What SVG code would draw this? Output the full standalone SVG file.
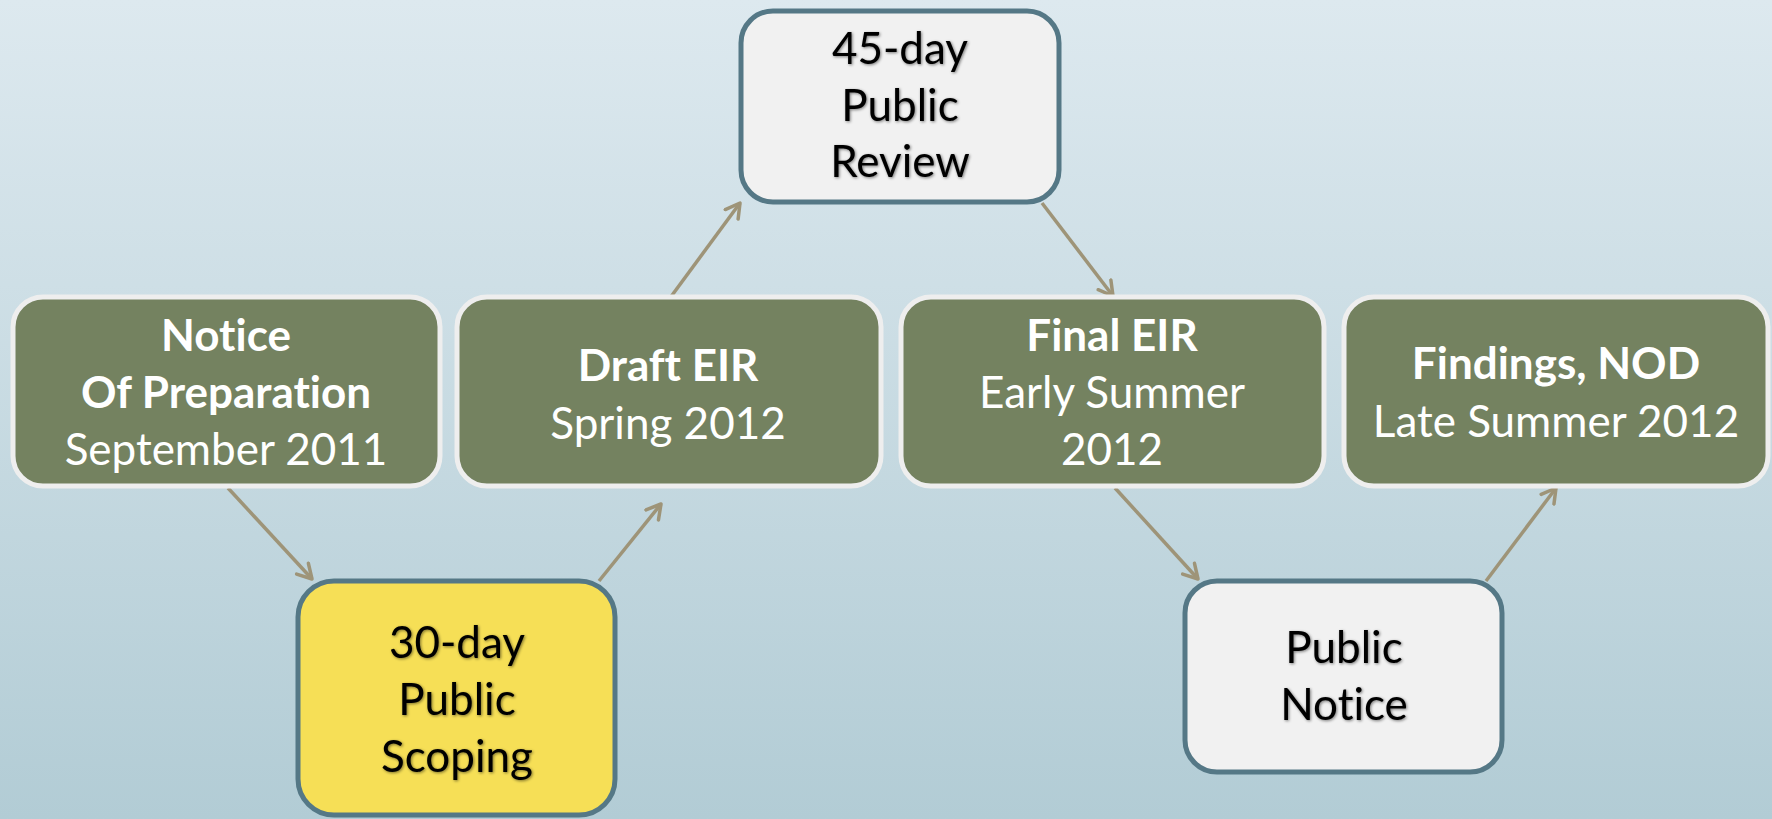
<svg xmlns="http://www.w3.org/2000/svg" width="1772" height="819" viewBox="0 0 1772 819">
<defs>
<linearGradient id="bg" x1="0" y1="0" x2="0" y2="1">
<stop offset="0" stop-color="#DDE9EF"/>
<stop offset="1" stop-color="#B2CCD5"/>
</linearGradient>
<marker id="arr" viewBox="-16 -10 20 20" refX="0" refY="0" markerWidth="20" markerHeight="20" markerUnits="userSpaceOnUse" orient="auto">
<path d="M-14,-8 L0,0 L-14,8" fill="none" stroke="#9E9478" stroke-width="3.5" stroke-linecap="round" stroke-linejoin="round"/>
</marker>
<filter id="glow" x="-10%" y="-10%" width="120%" height="120%">
<feGaussianBlur in="SourceAlpha" stdDeviation="1.5" result="b"/>
<feOffset dx="1" dy="1" in="b" result="o"/>
<feComponentTransfer in="o" result="s"><feFuncA type="linear" slope="0.5"/></feComponentTransfer>
<feMerge><feMergeNode in="s"/><feMergeNode in="SourceGraphic"/></feMerge>
</filter>
</defs>
<style>
.green{fill:#748260;stroke:#EEEEEE;stroke-width:5}
.light{fill:#F1F1F1;stroke:#557886;stroke-width:5}
.yellow{fill:#F6DF56;stroke:#557886;stroke-width:5}
text{font-variant-ligatures:none;font-feature-settings:"liga" 0,"clig" 0}
.wt{font-family:Lato,"Noto Sans",sans-serif;fill:#FFFFFF;font-size:44px;text-anchor:middle}
.b{font-weight:bold}
.dk{font-family:Lato,"Noto Sans",sans-serif;fill:#000000;font-size:44px;text-anchor:middle;filter:url(#glow)}
.conn{stroke:#9E9478;stroke-width:3.5;fill:none;marker-end:url(#arr)}
</style>
<rect x="0" y="0" width="1772" height="819" fill="url(#bg)"/>
<g id="connectors">
<line class="conn" x1="228" y1="488" x2="312" y2="579"/>
<line class="conn" x1="599" y1="581" x2="661" y2="504"/>
<line class="conn" x1="670" y1="298" x2="740" y2="203"/>
<line class="conn" x1="1042" y1="203" x2="1113" y2="296"/>
<line class="conn" x1="1115" y1="488" x2="1198" y2="579"/>
<line class="conn" x1="1486" y1="581" x2="1556" y2="488"/>
</g>
<g id="node-nop">
<rect class="green" x="13" y="297" width="427" height="189" rx="30"/>
<text class="wt b" x="226" y="351">Notice</text>
<text class="wt b" x="226" y="408">Of Preparation</text>
<text class="wt" x="226" y="465">September 2011</text>
</g>
<g id="node-draft">
<rect class="green" x="457" y="297" width="424" height="189" rx="30"/>
<text class="wt b" x="668" y="381">Draft EIR</text>
<text class="wt" x="668" y="439">Spring 2012</text>
</g>
<g id="node-final">
<rect class="green" x="901" y="297" width="423" height="189" rx="30"/>
<text class="wt b" x="1112" y="351">Final EIR</text>
<text class="wt" x="1112" y="408">Early Summer</text>
<text class="wt" x="1112" y="465">2012</text>
</g>
<g id="node-findings">
<rect class="green" x="1344" y="297" width="424" height="189" rx="30"/>
<text class="wt b" x="1556" y="379">Findings, NOD</text>
<text class="wt" x="1556" y="437">Late Summer 2012</text>
</g>
<g id="node-review">
<rect class="light" x="741" y="11" width="318" height="191" rx="32"/>
<text class="dk" x="900" y="64">45-day</text>
<text class="dk" x="900" y="121">Public</text>
<text class="dk" x="900" y="177">Review</text>
</g>
<g id="node-scoping">
<rect class="yellow" x="298" y="581" width="317" height="234" rx="36"/>
<text class="dk" x="457" y="658">30-day</text>
<text class="dk" x="457" y="715">Public</text>
<text class="dk" x="457" y="772">Scoping</text>
</g>
<g id="node-notice">
<rect class="light" x="1185" y="581" width="317" height="191" rx="32"/>
<text class="dk" x="1344" y="663">Public</text>
<text class="dk" x="1344" y="720">Notice</text>
</g>
</svg>
